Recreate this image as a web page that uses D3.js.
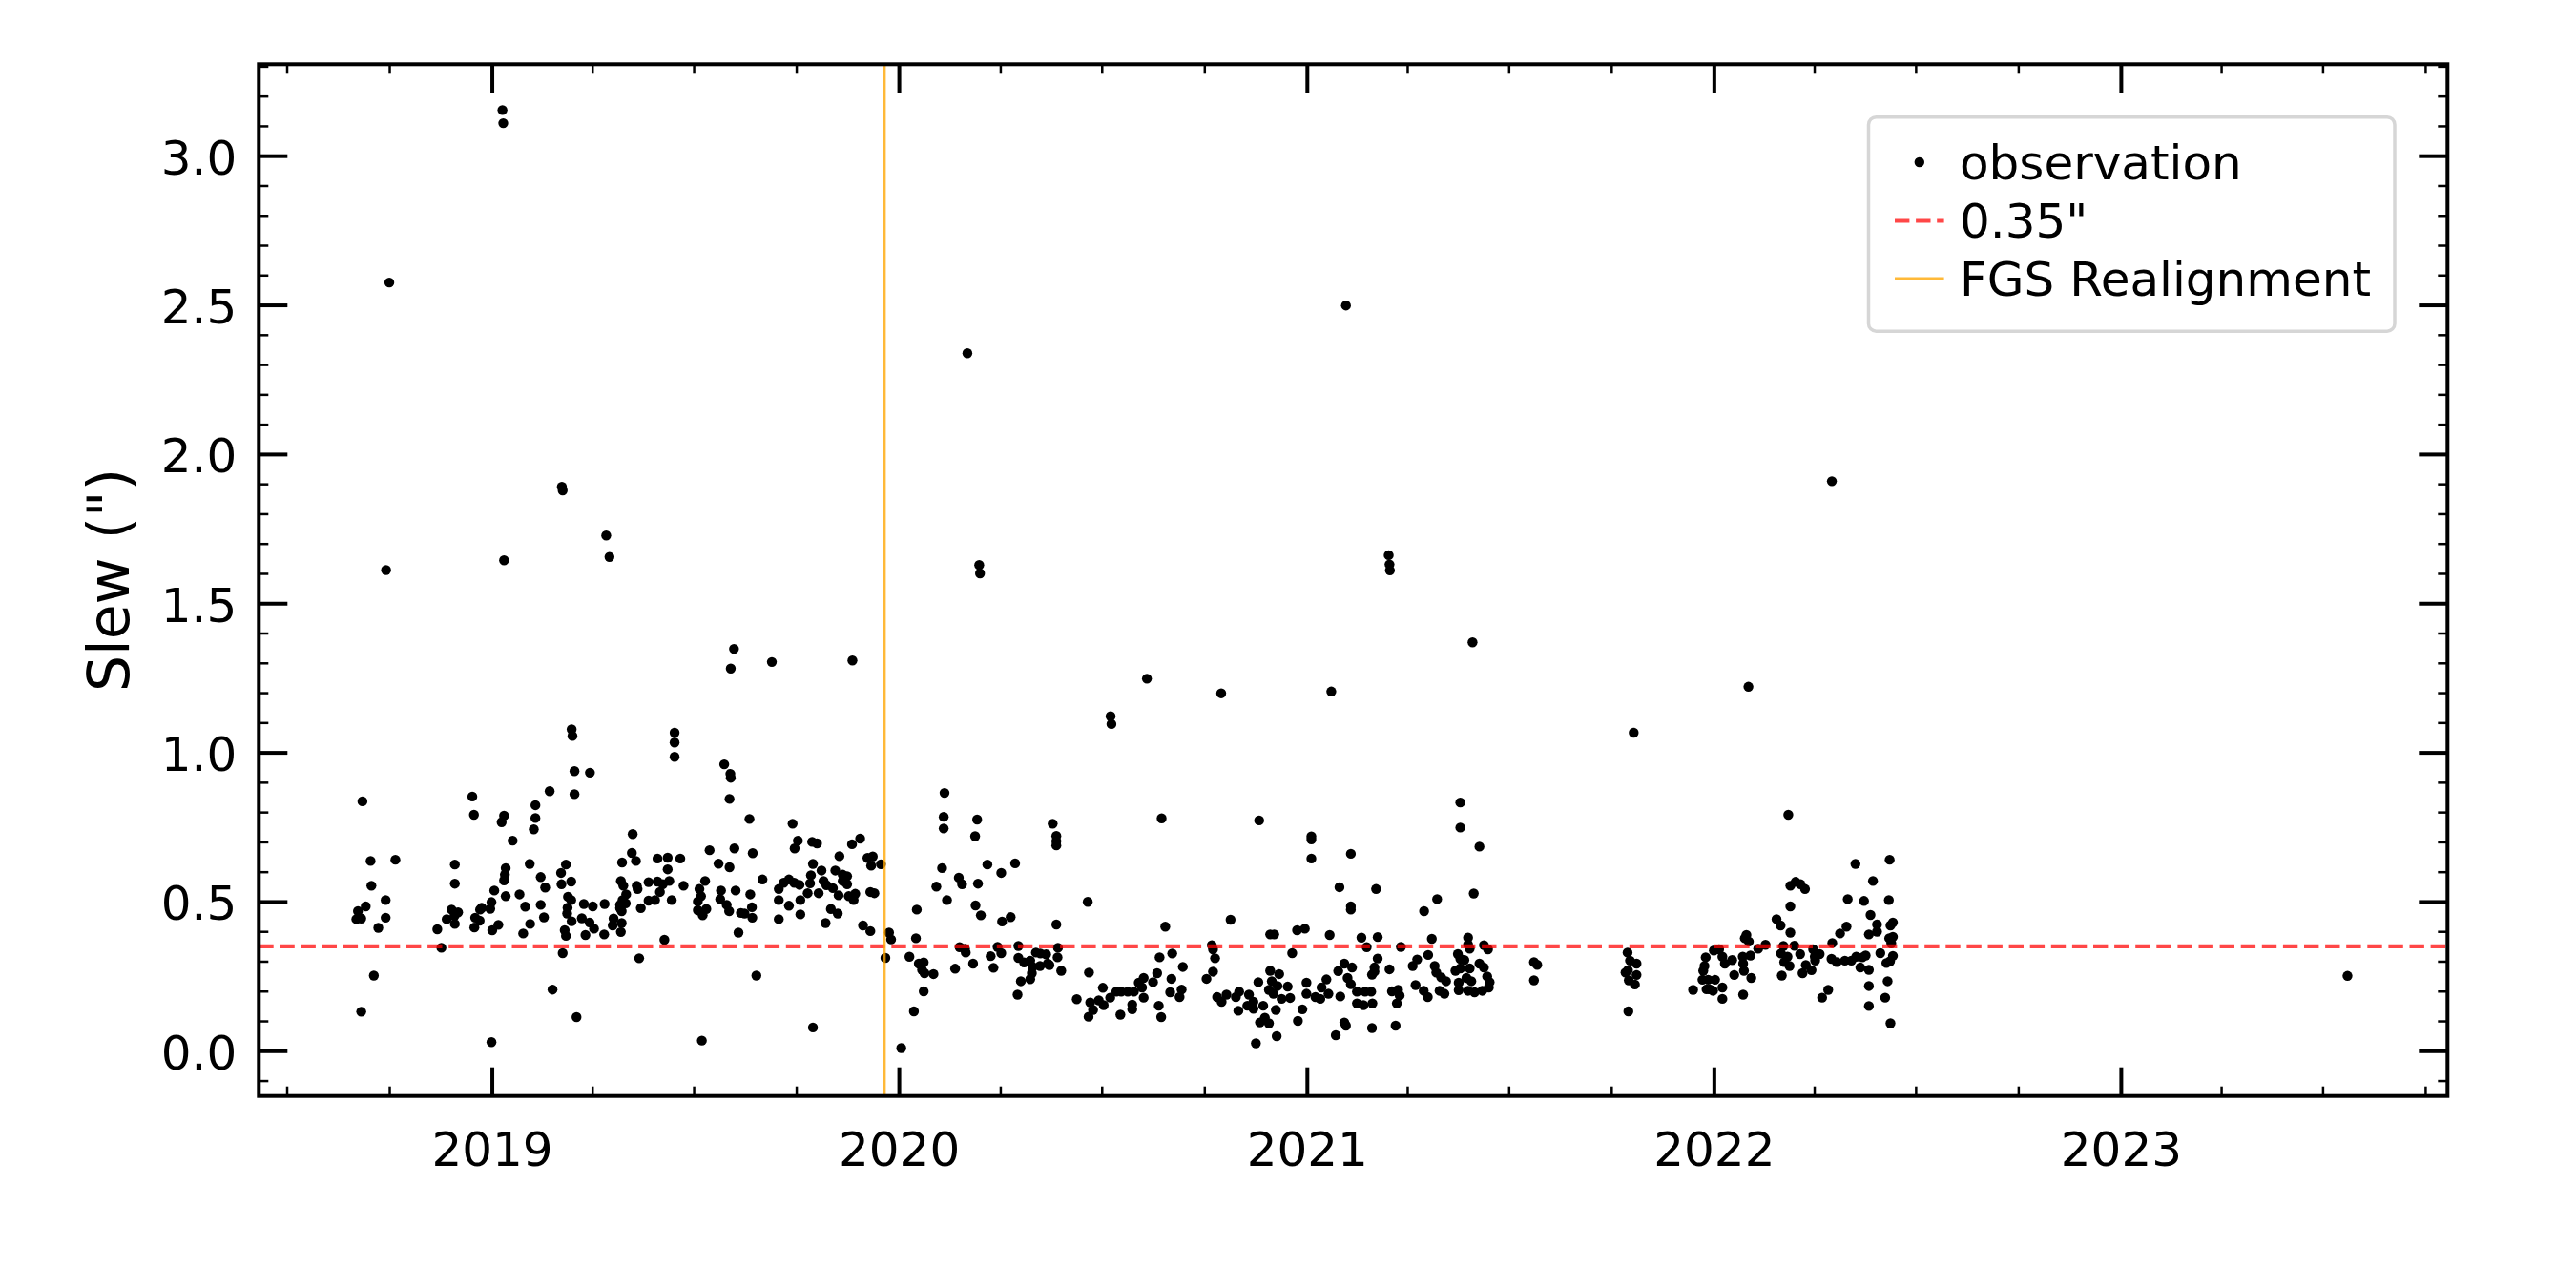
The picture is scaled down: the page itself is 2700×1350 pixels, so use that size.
<!DOCTYPE html>
<html><head><meta charset="utf-8">
<script src="https://cdn.jsdelivr.net/npm/d3@7"></script>
<style>
body{margin:0;background:#fff}
svg{display:block;background:#fff}
text{font-family:"DejaVu Sans",sans-serif}
</style>
</head><body>
<svg id="chart" width="2700" height="1350"></svg>
<script>
// ---------------- data ----------------
// observation epoch as decimal year, and slew in arcseconds
const obsYear = [
 2018.682,2018.702,2018.763,2018.704,2018.739,2018.739,2018.690,2018.671,2018.667,2018.679,2018.721,2018.710,2018.679,2018.866,2018.876,2018.909,2018.909,2018.952,2018.956,2018.901,
 2018.917,2018.889,2018.909,2018.908,2018.957,2018.959,2018.971,2018.970,2018.975,2018.996,2018.999,2019.006,2019.001,2019.016,2018.999,2019.030,2019.024,2019.051,2019.034,2019.032,
 2019.030,2019.034,2019.068,2019.082,2019.077,2019.094,2019.093,2019.107,2019.107,2019.103,2019.142,2019.120,2019.131,2019.120,2019.128,2019.149,2019.174,2019.182,2019.170,2019.171,
 2019.195,2019.187,2019.195,2019.186,2019.185,2019.196,2019.179,2019.182,2019.203,2019.241,2019.203,2019.208,2019.221,2019.226,2019.248,2019.230,2019.277,2019.276,2019.240,2019.251,
 2018.740,2018.748,2019.026,2019.028,2019.030,2019.172,2019.174,2019.196,2019.198,2019.281,2019.289,2019.449,2019.587,2019.595,2019.688,2019.886,
 2019.449,2019.449,2019.571,2019.586,2019.587,2019.584,2019.633,2019.739,2019.346,2019.344,2019.354,2019.320,2019.407,2019.432,2019.463,2019.432,2019.436,2019.407,2019.385,2019.317,
 2019.323,2019.356,2019.358,2019.330,2019.321,2019.315,2019.329,2019.319,2019.315,2019.299,2019.297,2019.319,2019.317,2019.366,2019.385,2019.401,2019.413,2019.420,2019.442,2019.471,
 2019.424,2019.362,2019.535,2019.557,2019.584,2019.596,2019.641,2019.524,2019.510,2019.514,2019.506,2019.506,2019.518,2019.527,2019.563,2019.561,2019.577,2019.583,2019.599,2019.612,
 2019.621,2019.635,2019.639,2019.640,2019.606,2019.650,2019.516,2019.665,2019.705,2019.705,2019.705,2019.717,2019.730,2019.743,2019.756,2019.730,2019.758,2019.758,2019.744,2019.752,
 2019.787,2019.799,2019.789,2019.784,2019.782,2019.776,2019.803,2019.810,2019.815,2019.822,2019.838,2019.852,2019.854,2019.844,2019.862,2019.873,2019.862,2019.873,2019.833,2019.850,
 2019.820,2019.885,2019.905,2019.877,2019.893,2019.889,2019.789,2019.912,2019.923,2019.936,2019.932,2019.956,2019.930,2019.940,2019.930,2019.976,2019.981,2019.967,2020.006,2020.026,
 2020.037,2020.044,2020.042,2020.049,2020.061,2020.057,2020.063,2020.085,2020.061,2020.112,2020.110,2020.110,2020.106,2020.092,2020.118,2020.138,2020.147,2020.155,2020.149,2020.162,
 2020.164,2020.182,2020.192,2020.187,2020.194,2020.188,2020.201,2020.217,2020.251,2020.225,2020.232,2020.242,2020.251,2020.253,2020.274,2020.285,2020.293,2020.293,2020.307,2020.299,
 2020.291,2020.322,2020.328,2020.326,2020.322,2020.336,2020.347,2020.346,2020.361,2020.365,2020.369,2020.377,2020.386,2020.386,2020.386,2020.386,2020.390,2020.389,2020.398,2020.436,
 2020.463,2020.466,2020.469,2020.476,2020.465,2020.490,2020.500,2020.502,2020.518,2020.533,2020.545,2020.543,2020.561,2020.576,2020.572,2020.572,2020.588,2020.600,2020.596,2020.600,
 2020.623,2020.633,2020.639,2020.637,2020.643,2020.653,2020.670,2020.668,2020.665,2020.688,2020.693,2020.696,2020.644,2020.754,2020.770,2020.775,2020.770,2020.767,2020.813,2020.780,
 2020.791,2020.803,2020.826,2020.834,2020.832,2020.858,2020.854,2020.869,2020.869,2020.883,2020.881,2020.893,2020.885,2020.897,2020.907,2020.875,2020.926,2020.910,2020.920,2020.910,
 2020.914,2020.907,2020.918,2020.932,2020.928,2020.924,2020.938,2020.953,2020.959,2020.964,2020.976,2020.995,2020.989,2020.978,2020.999,2020.999,2021.011,2021.011,2021.011,2021.021,
 2021.033,2021.036,2021.048,2021.056,2021.053,2021.071,2021.077,2021.080,2021.092,2021.082,2021.092,2021.096,2021.100,2021.108,2021.108,2021.108,2021.111,2021.108,2021.123,2021.123,
 2021.139,2021.134,2021.147,2021.143,2021.160,2021.158,2021.161,2021.160,2021.170,2021.174,2021.174,2021.166,2021.166,2021.203,2021.209,2021.224,2021.228,2021.221,2021.218,2021.231,
 2021.260,2021.271,2021.267,2021.288,2021.298,2021.287,2021.297,2021.307,2021.320,2021.314,2021.318,2021.330,2021.342,2021.326,2021.338,2021.377,2021.377,2021.424,2021.410,2021.396,
 2021.396,2021.400,2021.371,2021.377,2021.387,2021.365,2021.377,2021.400,2021.373,2021.373,2021.396,2021.412,2021.404,2021.392,2021.424,2021.435,2021.435,2021.445,2021.431,2021.443,
 2021.449,2021.447,2021.558,2021.566,2021.558,2021.788,2021.794,2021.783,2021.791,2021.790,2021.810,2021.810,2021.806,2021.789,
 2021.949,2021.980,2021.977,2021.974,2021.972,2021.986,2021.990,2021.982,2021.998,2022.003,2022.021,2022.021,2022.000,2022.013,2022.021,2022.027,2022.045,2022.050,2022.072,2022.071,
 2022.072,2022.074,2022.076,2022.080,2022.086,2022.090,2022.092,2022.109,2022.127,2022.154,2022.164,2022.165,2022.171,2022.167,2022.173,2022.181,2022.186,2022.183,2022.188,2022.188,
 2022.188,2022.201,2022.213,2022.224,2022.198,2022.212,2022.218,2022.226,2022.240,2022.244,2022.248,2022.260,2022.249,2022.266,2022.281,2022.291,2022.289,2022.302,2022.310,2022.326,
 2022.329,2022.322,2022.338,2022.348,2022.360,2022.350,2022.365,2022.369,2022.373,2022.381,2022.381,2022.381,2022.385,2022.381,2022.391,2022.401,2022.401,2022.409,2022.421,2022.431,
 2022.424,2022.427,2022.440,2022.440,2022.440,2022.432,2022.430,2022.434,2022.433,2022.434,2022.436,
 2020.168,2020.197,2020.199,2020.519,2020.521,2020.608,2020.790,2021.060,2021.096,2021.201,2021.203,2021.204,2021.407,2021.803,2022.085,2022.290,2023.557
];
const obsSlew = [
 0.836,0.636,0.640,0.553,0.505,0.446,0.484,0.468,0.441,0.443,0.412,0.252,0.131,0.407,0.345,0.624,0.560,0.852,0.791,0.473,
 0.464,0.441,0.425,0.452,0.413,0.446,0.473,0.436,0.479,0.476,0.498,0.537,0.404,0.422,0.029,0.788,0.766,0.704,0.612,0.590,
 0.571,0.518,0.524,0.483,0.393,0.425,0.626,0.823,0.780,0.742,0.870,0.582,0.547,0.489,0.447,0.205,0.327,0.624,0.596,0.558,
 0.567,0.516,0.505,0.479,0.460,0.434,0.404,0.385,0.937,0.932,0.860,0.113,0.444,0.492,0.484,0.388,0.492,0.390,0.430,0.409,
 1.611,2.575,3.153,3.109,1.644,1.890,1.878,1.077,1.055,1.727,1.655,1.066,1.281,1.347,1.303,1.308,
 1.033,0.985,0.960,0.928,0.915,0.844,0.777,0.761,0.726,0.663,0.636,0.631,0.644,0.647,0.644,0.608,0.569,0.567,0.565,0.569,
 0.553,0.553,0.542,0.524,0.505,0.489,0.494,0.468,0.478,0.443,0.420,0.428,0.398,0.478,0.503,0.505,0.532,0.558,0.505,0.553,
 0.372,0.310,0.672,0.627,0.615,0.678,0.662,0.569,0.542,0.518,0.500,0.471,0.454,0.475,0.537,0.508,0.489,0.468,0.537,0.462,
 0.460,0.524,0.481,0.446,0.396,0.252,0.034,0.574,0.542,0.505,0.441,0.563,0.574,0.563,0.556,0.486,0.505,0.457,0.678,0.704,
 0.700,0.695,0.626,0.588,0.561,0.528,0.528,0.604,0.569,0.555,0.545,0.521,0.652,0.604,0.590,0.585,0.569,0.558,0.475,0.460,
 0.428,0.692,0.711,0.518,0.526,0.505,0.078,0.420,0.646,0.651,0.620,0.625,0.532,0.528,0.401,0.396,0.373,0.311,0.009,0.315,
 0.132,0.473,0.377,0.292,0.296,0.271,0.260,0.257,0.199,0.864,0.784,0.745,0.612,0.550,0.505,0.275,0.580,0.558,0.347,0.342,
 0.329,0.292,0.775,0.719,0.560,0.487,0.454,0.624,0.596,0.317,0.278,0.348,0.327,0.433,0.448,0.628,0.351,0.311,0.296,0.233,
 0.188,0.302,0.281,0.260,0.240,0.329,0.326,0.284,0.323,0.292,0.287,0.761,0.720,0.702,0.688,0.423,0.345,0.313,0.268,0.173,
 0.499,0.262,0.162,0.137,0.114,0.169,0.211,0.153,0.178,0.198,0.198,0.121,0.198,0.198,0.155,0.139,0.228,0.244,0.212,0.178,
 0.230,0.260,0.313,0.151,0.113,0.416,0.326,0.241,0.196,0.180,0.205,0.281,0.779,0.241,0.265,0.310,0.340,0.354,0.439,0.180,
 0.164,0.188,0.180,0.198,0.134,0.188,0.151,0.164,0.141,0.772,0.230,0.151,0.095,0.111,0.092,0.025,0.049,0.390,0.390,0.268,
 0.233,0.204,0.191,0.257,0.217,0.137,0.174,0.215,0.177,0.327,0.404,0.409,0.139,0.100,0.228,0.191,0.718,0.708,0.644,0.180,
 0.174,0.212,0.239,0.388,0.191,0.052,0.267,0.548,0.292,0.182,0.095,0.084,0.244,0.660,0.484,0.473,0.279,0.223,0.198,0.159,
 0.153,0.379,0.347,0.198,0.255,0.198,0.159,0.076,0.542,0.381,0.309,0.265,0.279,0.273,0.199,0.204,0.185,0.159,0.084,0.348,
 0.284,0.306,0.220,0.468,0.321,0.201,0.180,0.375,0.508,0.284,0.262,0.246,0.233,0.201,0.191,0.832,0.748,0.684,0.527,0.379,
 0.356,0.342,0.324,0.308,0.304,0.268,0.276,0.276,0.228,0.203,0.201,0.196,0.233,0.244,0.292,0.279,0.354,0.340,0.201,0.249,
 0.230,0.212,0.297,0.288,0.236,0.329,0.302,0.262,0.236,0.132,0.292,0.254,0.222,0.270,
 0.204,0.313,0.284,0.268,0.238,0.238,0.206,0.206,0.201,0.238,0.212,0.174,0.336,0.340,0.315,0.292,0.304,0.254,0.188,0.315,
 0.292,0.268,0.377,0.388,0.366,0.319,0.244,0.342,0.355,0.441,0.420,0.326,0.351,0.252,0.297,0.315,0.284,0.791,0.553,0.484,
 0.396,0.566,0.558,0.542,0.352,0.324,0.260,0.287,0.270,0.340,0.315,0.324,0.302,0.178,0.204,0.361,0.308,0.297,0.393,0.416,
 0.508,0.302,0.302,0.626,0.279,0.315,0.313,0.502,0.319,0.271,0.217,0.150,0.455,0.390,0.569,0.423,0.399,0.327,0.178,0.377,
 0.294,0.233,0.430,0.382,0.318,0.640,0.505,0.420,0.300,0.092,0.360,
 2.338,1.628,1.600,1.121,1.095,1.247,1.198,1.204,2.498,1.661,1.630,1.610,1.369,1.066,1.220,1.909,0.251
];
const thresholdValue = 0.35;                 // red dashed reference line
const realignmentDate = "2019-12-19";        // FGS realignment (orange line)
const xDomainDates = ["2018-06-06", "2023-10-21"];
const yDomain = [-0.1516, 3.3067];
const xTickYears = [2019, 2020, 2021, 2022, 2023];
const yTickValues = [0, 0.5, 1, 1.5, 2, 2.5, 3];
const legendLabels = ["observation", "0.35\"", "FGS Realignment"];
const yAxisLabel = "Slew (\")";

// ---------------- drawing ----------------
const svg = d3.select("#chart");
const m = {left: 271.3, right: 2565.3, top: 67.3, bottom: 1148.7};
const FONT = "DejaVu Sans, sans-serif";

function yearToDate(v) {
  const yr = Math.floor(v);
  const a = Date.UTC(yr, 0, 1), b = Date.UTC(yr + 1, 0, 1);
  return new Date(a + (v - yr) * (b - a));
}
const parseDate = d3.utcParse("%Y-%m-%d");

const x = d3.scaleUtc().domain(xDomainDates.map(parseDate)).range([m.left, m.right]);
const y = d3.scaleLinear().domain(yDomain).range([m.bottom, m.top]);

const n = Math.min(obsYear.length, obsSlew.length);
const points = d3.range(n).map(i => ({date: yearToDate(obsYear[i]), v: obsSlew[i]}));

svg.append("defs").append("clipPath").attr("id", "plotclip")
  .append("rect").attr("x", m.left).attr("y", m.top)
  .attr("width", m.right - m.left).attr("height", m.bottom - m.top);

// ticks
const majorX = xTickYears.map(yv => new Date(Date.UTC(yv, 0, 1)));
const minorX = d3.utcMonth.every(3).range(x.domain()[0], x.domain()[1]).filter(d => d.getUTCMonth() !== 0);
const minorY = d3.range(-2, 34).map(i => i / 10).filter(v => Math.round(v * 10) % 5 !== 0 && v >= yDomain[0] && v <= yDomain[1]);

function styleAxis(g, width, showText) {
  g.select(".domain").remove();
  g.selectAll(".tick line").attr("stroke", "#000").attr("stroke-width", width);
  if (!showText) g.selectAll(".tick text").remove();
  g.attr("font-family", FONT).attr("font-size", 50);
}

// bottom
svg.append("g").attr("transform", `translate(0,${m.bottom})`)
  .call(d3.axisBottom(x).tickValues(majorX).tickFormat(d3.utcFormat("%Y")).tickSizeInner(-30).tickSizeOuter(0).tickPadding(38))
  .call(g => { styleAxis(g, 4, true); g.selectAll(".tick text").attr("fill", "#000"); });
svg.append("g").attr("transform", `translate(0,${m.bottom})`)
  .call(d3.axisBottom(x).tickValues(minorX).tickFormat("").tickSizeInner(-10).tickSizeOuter(0))
  .call(g => styleAxis(g, 2.5, false));
// top
svg.append("g").attr("transform", `translate(0,${m.top})`)
  .call(d3.axisTop(x).tickValues(majorX).tickFormat("").tickSizeInner(-30).tickSizeOuter(0))
  .call(g => styleAxis(g, 4, false));
svg.append("g").attr("transform", `translate(0,${m.top})`)
  .call(d3.axisTop(x).tickValues(minorX).tickFormat("").tickSizeInner(-10).tickSizeOuter(0))
  .call(g => styleAxis(g, 2.5, false));
// left
svg.append("g").attr("transform", `translate(${m.left},0)`)
  .call(d3.axisLeft(y).tickValues(yTickValues).tickFormat(d3.format(".1f")).tickSizeInner(-30).tickSizeOuter(0).tickPadding(23))
  .call(g => { styleAxis(g, 4, true); g.selectAll(".tick text").attr("fill", "#000").attr("dy", "0.38em"); });
svg.append("g").attr("transform", `translate(${m.left},0)`)
  .call(d3.axisLeft(y).tickValues(minorY).tickFormat("").tickSizeInner(-10).tickSizeOuter(0))
  .call(g => styleAxis(g, 2.5, false));
// right
svg.append("g").attr("transform", `translate(${m.right},0)`)
  .call(d3.axisRight(y).tickValues(yTickValues).tickFormat("").tickSizeInner(-30).tickSizeOuter(0))
  .call(g => styleAxis(g, 4, false));
svg.append("g").attr("transform", `translate(${m.right},0)`)
  .call(d3.axisRight(y).tickValues(minorY).tickFormat("").tickSizeInner(-10).tickSizeOuter(0))
  .call(g => styleAxis(g, 2.5, false));

// data points
const plot = svg.append("g").attr("clip-path", "url(#plotclip)");
plot.append("g").selectAll("circle").data(points).join("circle")
  .attr("cx", d => x(d.date)).attr("cy", d => y(d.v)).attr("r", 5.2).attr("fill", "#000");

// threshold and realignment lines (drawn over the points, semi-transparent)
plot.append("line")
  .attr("x1", m.left).attr("x2", m.right).attr("y1", y(thresholdValue)).attr("y2", y(thresholdValue))
  .attr("stroke", "#ff0000").attr("stroke-opacity", 0.72).attr("stroke-width", 4.2).attr("stroke-dasharray", "15.4 6.7");
const rx = x(parseDate(realignmentDate));
plot.append("line")
  .attr("x1", rx).attr("x2", rx).attr("y1", m.top).attr("y2", m.bottom)
  .attr("stroke", "#ffa500").attr("stroke-opacity", 0.78).attr("stroke-width", 3);

// frame
svg.append("rect").attr("x", m.left).attr("y", m.top)
  .attr("width", m.right - m.left).attr("height", m.bottom - m.top)
  .attr("fill", "none").attr("stroke", "#000").attr("stroke-width", 4);

// y label
svg.append("text")
  .attr("transform", `translate(135,${(m.top + m.bottom) / 2}) rotate(-90)`)
  .attr("text-anchor", "middle").attr("font-family", FONT).attr("font-size", 60).attr("fill", "#000")
  .text(yAxisLabel);

// legend
const lg = svg.append("g");
lg.append("rect").attr("x", 1958.5).attr("y", 122.7).attr("width", 551.5).attr("height", 224.5)
  .attr("rx", 8).attr("ry", 8).attr("fill", "#fff").attr("fill-opacity", 0.8)
  .attr("stroke", "#d6d6d6").attr("stroke-width", 3.5);
const rowY = [170, 231.5, 292];
const hx0 = 1986, hx1 = 2037.6, tx = 2054;
lg.append("circle").attr("cx", (hx0 + hx1) / 2).attr("cy", rowY[0]).attr("r", 5.2).attr("fill", "#000");
lg.append("line").attr("x1", hx0).attr("x2", hx1).attr("y1", rowY[1]).attr("y2", rowY[1])
  .attr("stroke", "#ff0000").attr("stroke-opacity", 0.72).attr("stroke-width", 4.2).attr("stroke-dasharray", "15.4 6.7");
lg.append("line").attr("x1", hx0).attr("x2", hx1).attr("y1", rowY[2]).attr("y2", rowY[2])
  .attr("stroke", "#ffa500").attr("stroke-opacity", 0.78).attr("stroke-width", 3);
lg.selectAll("text.lab").data(legendLabels).join("text").attr("class", "lab")
  .attr("x", tx).attr("y", (d, i) => rowY[i] + 17.5)
  .attr("font-family", FONT).attr("font-size", 50).attr("fill", "#000")
  .text(d => d);
</script>
</body></html>
